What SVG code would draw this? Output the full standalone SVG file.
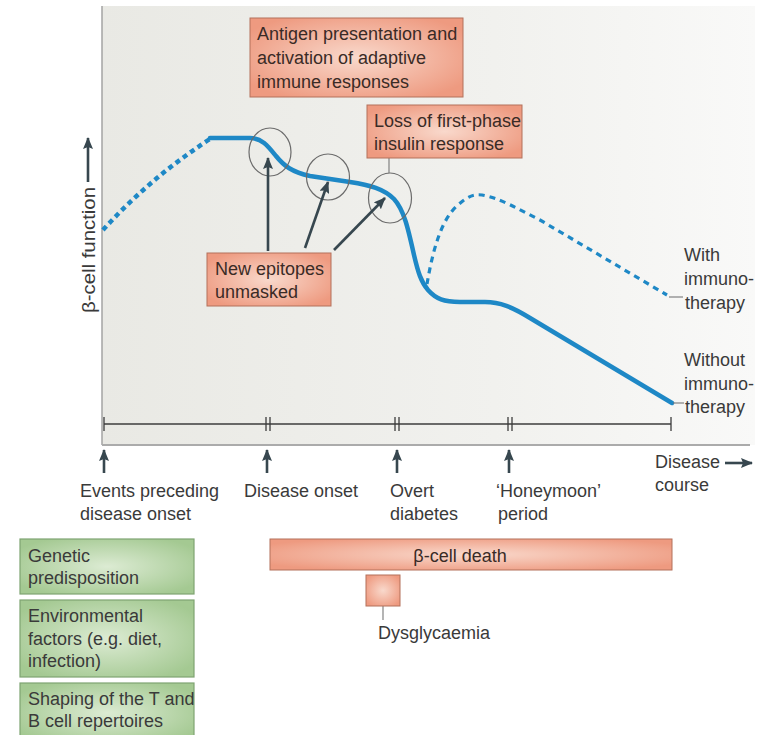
<svg xmlns="http://www.w3.org/2000/svg" width="761" height="735" viewBox="0 0 761 735">
<defs>
<linearGradient id="panel" x1="0" y1="0" x2="1" y2="0">
<stop offset="0" stop-color="#e9e9e4"/>
<stop offset="0.6" stop-color="#f1f1ee"/>
<stop offset="1" stop-color="#f9f9f8"/>
</linearGradient>
<radialGradient id="salmon" cx="0.5" cy="0.5" r="0.6">
<stop offset="0" stop-color="#f9d9cc"/>
<stop offset="1" stop-color="#ee9a80"/>
</radialGradient>
<radialGradient id="green" cx="0.5" cy="0.5" r="0.6">
<stop offset="0" stop-color="#dcebd3"/>
<stop offset="1" stop-color="#a4c992"/>
</radialGradient>
<marker id="ah" viewBox="0 0 12 10" refX="11" refY="5" markerWidth="12" markerHeight="10" orient="auto" markerUnits="userSpaceOnUse">
<path d="M0,0 L12,5 L0,10 L2,5 z" fill="#37474f"/>
</marker>
</defs>
<style>
text{font-family:"Liberation Sans",Arial,sans-serif;font-size:18px;fill:#3a3a3a}
.bx{fill:url(#salmon);stroke:#b3705b;stroke-width:1}
.gb{fill:url(#green);stroke:#7fa472;stroke-width:1.2}
.bt{fill:#3a2b26}
.curve{fill:none;stroke:#1e88c6;stroke-width:4.5;stroke-linecap:round;stroke-linejoin:round}
.dash1{fill:none;stroke:#1e88c6;stroke-width:4.5;stroke-dasharray:5 4}
.dash2{fill:none;stroke:#1e88c6;stroke-width:3.2;stroke-dasharray:6 5}
.ring{fill:none;stroke:#6b6b6b;stroke-width:1.2}
.arr{fill:none;stroke:#37474f;stroke-width:2.6;marker-end:url(#ah)}
.tl{fill:none;stroke:#3c3c3c;stroke-width:1.3}
.thin{fill:none;stroke:#777;stroke-width:1.1}
</style>
<rect x="0" y="0" width="761" height="735" fill="#ffffff"/>
<g id="panel-bg">
<rect x="102" y="6" width="653" height="439" fill="url(#panel)"/>
<line x1="102" y1="6" x2="102" y2="445" stroke="#a3a3a3" stroke-width="1.5"/>
<line x1="102" y1="445" x2="750" y2="445" stroke="#ababab" stroke-width="2"/>
</g>
<g id="y-axis">
<text transform="translate(95,313) rotate(-90)" font-size="21" textLength="126" lengthAdjust="spacingAndGlyphs">β-cell function</text>
<line x1="88" y1="182" x2="88" y2="138" class="arr" stroke-width="2.2"/>
</g>
<g id="connectors">
<path class="dash1" d="M103,230 Q150,178 210,139"/>
<path class="curve" d="M210,138 L250,138 C262,138 268,146 276,156 C284,166 292,172 310,176 L350,182 C370,185 384,189 394,199 C404,210 408,228 414,255 C418,272 421,282 428,290 C436,299 444,302 460,302 L485,302 C500,302 512,307 530,318 L672,403"/>
<path class="dash2" d="M427,284 C432,255 440,220 458,205 C468,196 474,194 482,195 C500,198 520,210 540,220 L667,295"/>
<line class="thin" x1="669" y1="297" x2="683" y2="297"/>
<line class="thin" x1="673" y1="403" x2="684" y2="403"/>
<ellipse class="ring" cx="270" cy="152" rx="21" ry="24"/>
<ellipse class="ring" cx="328" cy="177" rx="21.5" ry="23"/>
<ellipse class="ring" cx="390" cy="198" rx="21.5" ry="25"/>
<line class="thin" x1="389" y1="158" x2="389" y2="173"/>
<line class="arr" x1="268" y1="251" x2="268" y2="158"/>
<line class="arr" x1="305" y1="248" x2="328" y2="182"/>
<line class="arr" x1="334" y1="250" x2="385" y2="198"/>
<line class="thin" x1="383" y1="606" x2="383" y2="620"/>
</g>
<g id="timeline">
<line class="tl" x1="104" y1="424" x2="671" y2="424"/>
<line class="tl" x1="104" y1="417" x2="104" y2="431"/>
<line class="tl" x1="671" y1="417" x2="671" y2="431"/>
<line class="tl" x1="266" y1="417" x2="266" y2="431"/>
<line class="tl" x1="270" y1="417" x2="270" y2="431"/>
<line class="tl" x1="395" y1="417" x2="395" y2="431"/>
<line class="tl" x1="399" y1="417" x2="399" y2="431"/>
<line class="tl" x1="508" y1="417" x2="508" y2="431"/>
<line class="tl" x1="512" y1="417" x2="512" y2="431"/>
<line class="arr" stroke-width="2.2" x1="104" y1="473" x2="104" y2="450"/>
<line class="arr" stroke-width="2.2" x1="267" y1="473" x2="267" y2="450"/>
<line class="arr" stroke-width="2.2" x1="397" y1="473" x2="397" y2="450"/>
<line class="arr" stroke-width="2.2" x1="509" y1="473" x2="509" y2="450"/>
<line class="arr" stroke-width="2.2" x1="725" y1="463" x2="752" y2="463"/>
</g>
<g id="label-events"><text x="80" y="497">Events preceding</text><text x="80" y="520">disease onset</text></g>
<g id="label-onset"><text x="244" y="497">Disease onset</text></g>
<g id="label-overt"><text x="390" y="497">Overt</text><text x="390" y="520">diabetes</text></g>
<g id="label-honeymoon"><text x="496" y="497">‘Honeymoon’</text><text x="498" y="520">period</text></g>
<g id="label-course"><text x="655" y="468">Disease</text><text x="655" y="491">course</text></g>
<g id="label-with"><text x="684" y="261">With</text><text x="684" y="285">immuno-</text><text x="685" y="309">therapy</text></g>
<g id="label-without"><text x="684" y="366">Without</text><text x="684" y="390">immuno-</text><text x="685" y="413">therapy</text></g>
<g id="box-antigen">
<rect class="bx" x="250" y="18" width="213" height="79"/>
<text class="bt" x="257" y="40">Antigen presentation and</text>
<text class="bt" x="257" y="64">activation of adaptive</text>
<text class="bt" x="257" y="88">immune responses</text>
</g>
<g id="box-loss">
<rect class="bx" x="367" y="105" width="155" height="53"/>
<text class="bt" x="374" y="127">Loss of first-phase</text>
<text class="bt" x="374" y="150">insulin response</text>
</g>
<g id="box-epitopes">
<rect class="bx" x="207" y="253" width="124" height="53"/>
<text class="bt" x="215" y="275">New epitopes</text>
<text class="bt" x="215" y="298">unmasked</text>
</g>
<g id="box-genetic">
<rect class="gb" x="20" y="539" width="174" height="55"/>
<text x="28" y="562">Genetic</text>
<text x="28" y="584">predisposition</text>
</g>
<g id="box-environmental">
<rect class="gb" x="20" y="600" width="174" height="77"/>
<text x="28" y="622">Environmental</text>
<text x="28" y="645">factors (e.g. diet,</text>
<text x="28" y="667">infection)</text>
</g>
<g id="box-shaping">
<rect class="gb" x="20" y="683" width="174" height="60"/>
<text x="28" y="705">Shaping of the T and</text>
<text x="28" y="727">B cell repertoires</text>
</g>
<g id="bar-death">
<rect class="bx" x="270" y="539" width="402" height="31"/>
<text class="bt" x="460" y="562" text-anchor="middle">β-cell death</text>
</g>
<g id="box-dysglycaemia">
<rect class="bx" x="366" y="575" width="34" height="31"/>
<text x="378" y="639">Dysglycaemia</text>
</g>
</svg>
